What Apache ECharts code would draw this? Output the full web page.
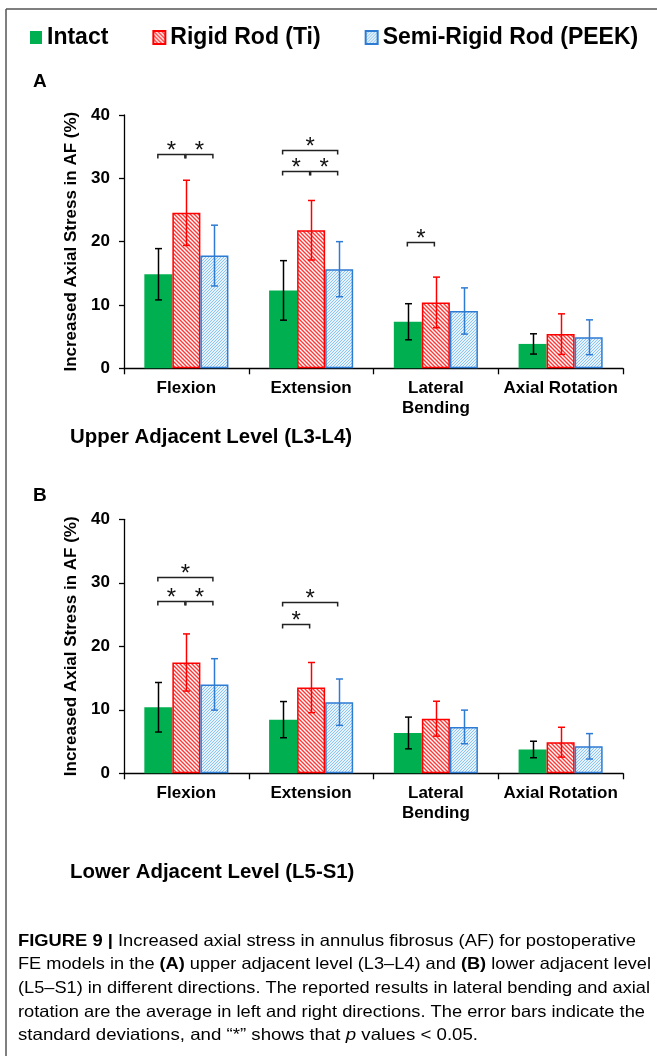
<!DOCTYPE html>
<html><head><meta charset="utf-8">
<script src="https://cdn.jsdelivr.net/npm/echarts@6/dist/echarts.min.js"></script>
<style>html,body{margin:0;padding:0;background:#fff}#c{width:657px;height:1056px}</style>
</head><body><div id="c"></div>
<script>
// ---------- DATA ----------
const categories = ['Flexion', 'Extension', 'Lateral\nBending', 'Axial Rotation'];
const seriesNames = ['Intact', 'Rigid Rod (Ti)', 'Semi-Rigid Rod (PEEK)'];
const yMin = 0, yMax = 40, yStep = 10;

// Panel A: upper adjacent level (L3-L4)
const upperIntact = [14.85, 12.3, 7.35, 3.85];
const upperIntactSD = [4.05, 4.7, 2.85, 1.6];
const upperRigid = [24.55, 21.8, 10.4, 5.4];
const upperRigidSD = [5.15, 4.7, 4.0, 3.2];
const upperPeek = [17.8, 15.65, 9.05, 4.9];
const upperPeekSD = [4.8, 4.35, 3.65, 2.75];
// significance brackets: [category, fromSeries, toSeries, level]
const upperSig = [[0, 0, 1, 33.9], [0, 1, 2, 33.9], [1, 0, 2, 34.5], [1, 0, 1, 31.1], [1, 1, 2, 31.1], [2, 0, 1, 19.9]];

// Panel B: lower adjacent level (L5-S1)
const lowerIntact = [10.4, 8.45, 6.35, 3.75];
const lowerIntactSD = [3.9, 2.85, 2.5, 1.3];
const lowerRigid = [17.45, 13.5, 8.6, 4.9];
const lowerRigidSD = [4.5, 3.95, 2.75, 2.35];
const lowerPeek = [14.0, 11.2, 7.3, 4.25];
const lowerPeekSD = [4.05, 3.65, 2.65, 2.0];
const lowerSig = [[0, 0, 2, 30.9], [0, 0, 1, 27.2], [0, 1, 2, 27.2], [1, 0, 2, 26.9], [1, 0, 1, 23.5]];

const yAxisName = 'Increased Axial Stress in AF (%)';
const panelTitles = ['Upper Adjacent Level (L3-L4)', 'Lower Adjacent Level (L5-S1)'];
const panelLetters = ['A', 'B'];
const captionLines = [
  [['FIGURE 9 | ', 'b'], ['Increased axial stress in annulus fibrosus (AF) for postoperative', 'n']],
  [['FE models in the ', 'n'], ['(A)', 'b'], [' upper adjacent level (L3–L4) and ', 'n'], ['(B)', 'b'], [' lower adjacent level', 'n']],
  [['(L5–S1) in different directions. The reported results in lateral bending and axial', 'n']],
  [['rotation are the average in left and right directions. The error bars indicate the', 'n']],
  [['standard deviations, and “*” shows that ', 'n'], ['p', 'i'], [' values < 0.05.', 'n']]
];

// ---------- STYLE ----------
const FONT = "'Liberation Sans', Arial, sans-serif";
const CAP_FONT = "'Liberation Sans', Arial, sans-serif";
const capRight = [636, 651, 650, 645, 478];
const GAP = 0.326;
const barBorder = ['#00B050', '#FF0000', '#2E7BD4'];
const errColors = ['#000000', '#FF0000', '#2E7BD4'];

function redHatch() {
  const c = document.createElement('canvas'); c.width = 4; c.height = 4;
  const g = c.getContext('2d');
  g.fillStyle = '#ffffff'; g.fillRect(0, 0, 4, 4);
  g.strokeStyle = 'rgba(255,20,20,0.85)'; g.lineWidth = 1.4;
  g.beginPath();
  g.moveTo(-1, -1); g.lineTo(5, 5);
  g.moveTo(-1, 3); g.lineTo(1, 5);
  g.moveTo(3, -1); g.lineTo(5, 1);
  g.stroke();
  return c;
}
function blueDots() {
  const c = document.createElement('canvas'); c.width = 3; c.height = 3;
  const g = c.getContext('2d');
  g.fillStyle = '#e6f2fc'; g.fillRect(0, 0, 3, 3);
  g.fillStyle = '#8cc4f0';
  g.fillRect(0, 0, 1, 1); g.fillRect(2, 1, 1, 1); g.fillRect(1, 2, 1, 1);
  return c;
}
const fills = ['#00B050', { image: redHatch(), repeat: 'repeat' }, { image: blueDots(), repeat: 'repeat' }];

const panels = [
  { means: [upperIntact, upperRigid, upperPeek], sds: [upperIntactSD, upperRigidSD, upperPeekSD], sig: upperSig, top: 115, height: 253.3 },
  { means: [lowerIntact, lowerRigid, lowerPeek], sds: [lowerIntactSD, lowerRigidSD, lowerPeekSD], sig: lowerSig, top: 519.3, height: 254 }
];

function barW(api) { return api.size([1, 0])[0] * (1 - GAP) / 3; }

function errRender(params, api) {
  const cat = api.value(0), lo = api.value(1), hi = api.value(2), s = api.value(3);
  const bw = barW(api);
  const cx = Math.round(api.coord([cat, 0])[0] + (s - 1) * bw) + 0.5;
  const yLo = api.coord([cat, lo])[1], yHi = api.coord([cat, hi])[1];
  const hw = 3.5;
  const st = { stroke: errColors[s], lineWidth: 1.5 };
  return { type: 'group', children: [
    { type: 'line', shape: { x1: cx, y1: yLo, x2: cx, y2: yHi }, style: st },
    { type: 'line', shape: { x1: cx - hw, y1: yLo, x2: cx + hw, y2: yLo }, style: st },
    { type: 'line', shape: { x1: cx - hw, y1: yHi, x2: cx + hw, y2: yHi }, style: st }
  ]};
}

function sigRender(params, api) {
  const cat = api.value(0), a = api.value(1), b = api.value(2), lv = api.value(3);
  const bw = barW(api);
  const c0 = api.coord([cat, lv]);
  const x1 = c0[0] + (a - 1) * bw - 0.5, x2 = c0[0] + (b - 1) * bw - 1.5;
  const y = Math.round(c0[1]) + 0.5;
  return { type: 'group', children: [
    { type: 'polyline', shape: { points: [[x1, y + 4], [x1, y], [x2, y], [x2, y + 4]] }, style: { stroke: '#222', lineWidth: 1.5, fill: null } },
    { type: 'text', x: (x1 + x2) / 2, y: y - 3.5, style: { text: '*', fontSize: 24, fontFamily: FONT, fill: '#111', align: 'center', verticalAlign: 'middle' } }
  ]};
}

const grids = [], xAxes = [], yAxes = [], series = [];
panels.forEach((p, gi) => {
  grids.push({ left: 124, width: 499, top: p.top, height: p.height });
  xAxes.push({
    type: 'category', gridIndex: gi, data: categories,
    axisLine: { lineStyle: { color: '#000', width: 1.3 } },
    axisTick: { show: true, length: 6, interval: 0, lineStyle: { color: '#000', width: 1.3 } },
    axisLabel: { interval: 0, margin: 10, fontSize: 17, fontWeight: 'bold', color: '#000', fontFamily: FONT, lineHeight: 20 }
  });
  yAxes.push({
    type: 'value', gridIndex: gi, min: yMin, max: yMax, interval: yStep,
    name: yAxisName, nameLocation: 'middle', nameRotate: 90, nameGap: 42,
    nameTextStyle: { fontSize: 17, fontWeight: 'bold', color: '#000', fontFamily: FONT },
    axisLine: { show: true, lineStyle: { color: '#000', width: 1.3 } },
    axisTick: { show: true, length: 5, lineStyle: { color: '#000', width: 1.3 } },
    splitLine: { show: false },
    axisLabel: { margin: 14, fontSize: 17, fontWeight: 'bold', color: '#000', fontFamily: FONT }
  });
  p.means.forEach((m, si) => {
    series.push({
      type: 'bar', name: seriesNames[si], xAxisIndex: gi, yAxisIndex: gi, data: m,
      barGap: '0%', barCategoryGap: (GAP * 100) + '%',
      itemStyle: { color: fills[si], borderColor: barBorder[si], borderWidth: si === 0 ? 0 : 1.5 },
      emphasis: { disabled: true }, silent: true
    });
  });
  const errData = [];
  p.means.forEach((m, si) => m.forEach((v, ci) => errData.push([ci, v - p.sds[si][ci], v + p.sds[si][ci], si])));
  series.push({ type: 'custom', xAxisIndex: gi, yAxisIndex: gi, renderItem: errRender, data: errData, z: 5, silent: true, clip: false });
  series.push({ type: 'custom', xAxisIndex: gi, yAxisIndex: gi, renderItem: sigRender, data: p.sig, z: 5, silent: true, clip: false });
});

// caption layout
const capSize = 16.5;
const capFonts = { n: 'normal ' + capSize + 'px ' + CAP_FONT, b: 'bold ' + capSize + 'px ' + CAP_FONT, i: 'italic ' + capSize + 'px ' + CAP_FONT };
const mctx = document.createElement('canvas').getContext('2d');
function lineWidth(line) { return line.reduce((w, seg) => { mctx.font = capFonts[seg[1]]; return w + mctx.measureText(seg[0]).width; }, 0); }
const scales = captionLines.map((l, i) => (capRight[i] - 18) / lineWidth(l));
const rich = {
  n: { fontSize: capSize, fontFamily: CAP_FONT, color: '#333' },
  b: { fontSize: capSize, fontFamily: CAP_FONT, fontWeight: 'bold', color: '#222' },
  i: { fontSize: capSize, fontFamily: CAP_FONT, fontStyle: 'italic', color: '#333' }
};
const capEls = captionLines.map((line, li) => ({
  type: 'text', x: 18, y: 941 + li * 23.7, scaleX: scales[li], originX: 0,
  style: { text: line.map(s => '{' + s[1] + '|' + s[0] + '}').join(''), rich: rich, verticalAlign: 'middle', align: 'left' }
}));

const graphic = [
  { type: 'line', shape: { x1: 6, y1: 9, x2: 657, y2: 9 }, style: { stroke: '#555', lineWidth: 1.5 } },
  { type: 'line', shape: { x1: 6, y1: 9, x2: 6, y2: 1056 }, style: { stroke: '#555', lineWidth: 1.5 } },
  { type: 'text', x: 33, y: 82, style: { text: panelLetters[0], fontSize: 19, fontWeight: 'bold', fontFamily: FONT, fill: '#000', verticalAlign: 'middle' } },
  { type: 'text', x: 33, y: 496, style: { text: panelLetters[1], fontSize: 19, fontWeight: 'bold', fontFamily: FONT, fill: '#000', verticalAlign: 'middle' } },
  { type: 'text', x: 70, y: 437, style: { text: panelTitles[0], fontSize: 20.4, fontWeight: 'bold', fontFamily: FONT, fill: '#000', verticalAlign: 'middle' } },
  { type: 'text', x: 70, y: 872, style: { text: panelTitles[1], fontSize: 20.4, fontWeight: 'bold', fontFamily: FONT, fill: '#000', verticalAlign: 'middle' } }
].concat(capEls);

const chart = echarts.init(document.getElementById('c'), null, { renderer: 'canvas' });
chart.setOption({
  animation: false,
  backgroundColor: '#fff',
  legend: {
    data: seriesNames, left: 30, top: 26, padding: 0, icon: 'rect', itemWidth: 12, itemHeight: 13, itemGap: 44,
    selectedMode: false,
    textStyle: { fontSize: 23, fontWeight: 'bold', color: '#000', fontFamily: FONT }
  },
  grid: grids, xAxis: xAxes, yAxis: yAxes, series: series, graphic: graphic
});
</script></body></html>
